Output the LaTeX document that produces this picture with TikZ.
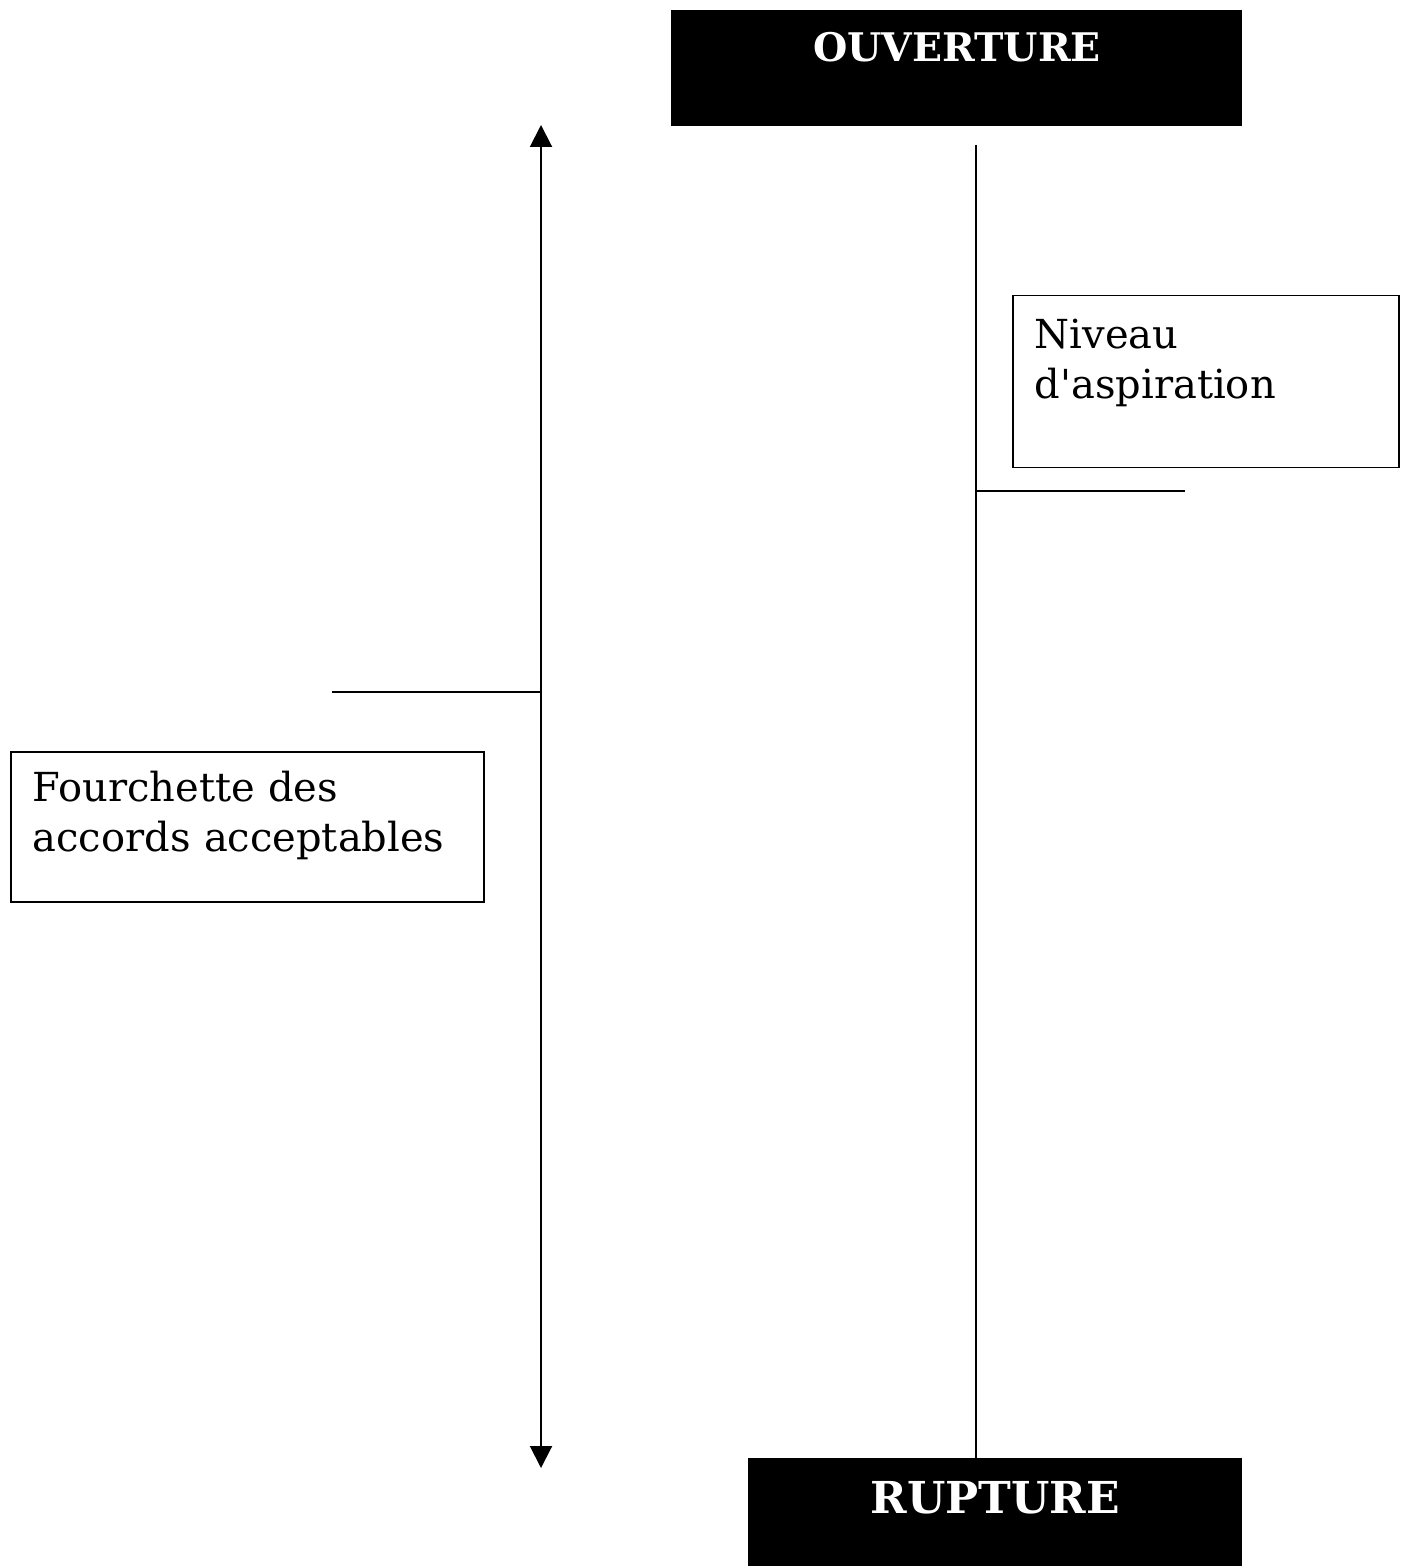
\documentclass[tikz,border=0pt]{standalone}
\usepackage{fontspec}
\setmainfont{DejaVu Serif}
\usetikzlibrary{arrows.meta}

\begin{document}
\begin{tikzpicture}[
  x=0.5pt, y=-0.5pt,
  poleblock/.style={fill=black, text=white, inner sep=0pt,
    font=\fontsize{19.7}{24}\selectfont\bfseries},
  labelblock/.style={draw, line width=0.75pt, align=left, inner xsep=11pt,
    inner ysep=0pt, font=\fontsize{20}{25}\selectfont},
  axis/.style={line width=1pt},
  rangeflow/.style={line width=1pt, {Triangle[length=11pt,width=11pt]}-{Triangle[length=11pt,width=11pt]}}
]
\useasboundingbox (0,0) rectangle (1408,1566);
% the two poles of the negotiation
\node[poleblock, anchor=north west, minimum width=285.5pt,
  text height=25.5pt, text depth=32.5pt] (ouv) at (671,10) {OUVERTURE};
\node[poleblock, anchor=north west, minimum width=247pt,
  text height=27.5pt, text depth=26.5pt,
  font=\fontsize{22}{26}\selectfont\bfseries] (rup) at (748,1458) {RUPTURE};
% labels, text set at the top left of each box
\node[labelblock, anchor=north west, text width=171pt,
  text height=26.5pt, text depth=59.5pt] (niv) at (1012,295)
  {Niveau\\d\textquotesingle aspiration};
\node[labelblock, anchor=north west, text width=214.5pt,
  text height=25pt, text depth=50pt] (four) at (10,751)
  {Fourchette des\\accords acceptables};
\coordinate (haut) at (976,145);
\coordinate (aspi) at (1185,491);
\coordinate (fhaut) at (541,125);
\coordinate (fbas) at (541,1468);
\coordinate (fmin) at (332,692);
\draw[axis] (haut) -- (rup.north -| haut);
\draw[axis] (aspi -| haut) -- (aspi);
\draw[rangeflow] (fhaut) -- (fbas);
\draw[axis] (fmin) -- (fmin -| fhaut);
\end{tikzpicture}
\end{document}
